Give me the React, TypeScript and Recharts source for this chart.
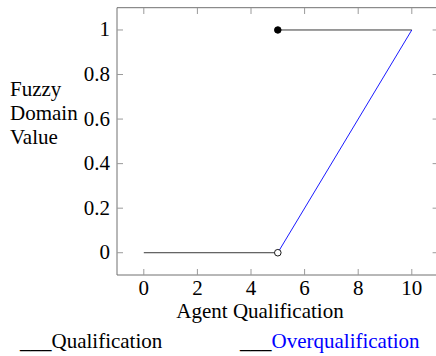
import React from "react"
import {
  ComposedChart,
  Line,
  Scatter,
  XAxis,
  YAxis,
} from "recharts"

// chart values
const xTicks = [0, 2, 4, 6, 8, 10]
const yTicks = [0, 0.2, 0.4, 0.6, 0.8, 1]
const qualLowX = [0, 5]
const qualLowY = [0, 0]
const qualHighX = [5, 10]
const qualHighY = [1, 1]
const overX = [5, 10]
const overY = [0, 1]
const filledDot = [{ x: 5, y: 1 }]
const openDot = [{ x: 5, y: 0 }]
const seriesNames = ["Qualification", "Overqualification"]
const seriesColors = ["#000", "#0000ff"]

const toPoints = (xs: number[], ys: number[]) => xs.map((x, i) => ({ x, y: ys[i] }))

const FONT = "'Liberation Serif', serif"
const FRAME = "#707070"
const TICK = "#9a9a9a"

// eslint-disable-next-line @typescript-eslint/no-explicit-any
function BottomTick({ x, y, payload }: any) {
  return (
    <g>
      <line x1={x} x2={x} y1={y} y2={y - 6} stroke={TICK} />
      <line x1={x} x2={x} y1={8} y2={14} stroke={TICK} />
      <text x={x} y={y + 20} textAnchor="middle" fontFamily={FONT} fontSize={21} fill="#000">
        {payload.value}
      </text>
    </g>
  )
}

// eslint-disable-next-line @typescript-eslint/no-explicit-any
function LeftTick({ x, y, payload }: any) {
  return (
    <g>
      <line x1={x} x2={x + 6} y1={y} y2={y} stroke={TICK} />
      <line x1={438.6} x2={432.6} y1={y} y2={y} stroke={TICK} />
      <text x={x - 7} y={y + 6.5} textAnchor="end" fontFamily={FONT} fontSize={21} fill="#000">
        {payload.value}
      </text>
    </g>
  )
}

// axis title plus the legend row beneath it
// eslint-disable-next-line @typescript-eslint/no-explicit-any
function XLabel({ viewBox }: any) {
  const starts = [20, 240]
  return (
    <g fontFamily={FONT} fontSize={21}>
      <line x1={viewBox.x} x2={viewBox.x + viewBox.width} y1={7.7} y2={7.7} stroke={FRAME} />
      <text x={viewBox.x + 143} y={viewBox.y + 43} textAnchor="middle" fill="#000">
        Agent Qualification
      </text>
      {seriesNames.map((name, i) => (
        <text key={name} x={starts[i]} y={viewBox.y + 73} fill={seriesColors[i]}>
          <tspan fill="#000">___</tspan>
          {name}
        </text>
      ))}
    </g>
  )
}

// eslint-disable-next-line @typescript-eslint/no-explicit-any
function YLabel({ viewBox }: any) {
  const lines = ["Fuzzy", "Domain", "Value"]
  return (
    <text fontFamily={FONT} fontSize={21} fill="#000">
      {lines.map((l, i) => (
        <tspan key={l} x={viewBox.x + 10} y={viewBox.y + 88 + i * 24}>
          {l}
        </tspan>
      ))}
    </text>
  )
}

// eslint-disable-next-line @typescript-eslint/no-explicit-any
const dotShape = (fill: string) => ({ cx, cy }: any) => (
  <circle cx={cx} cy={cy} r={3.3} fill={fill} stroke="#000" strokeWidth={0.9} />
)

export default function App() {
  return (
    <div style={{ position: "absolute", left: 0, top: 0, width: 436, height: 356, overflow: "hidden", background: "#fff" }}>
      <ComposedChart width={445} height={356} margin={{ top: 7.7, right: 6.4, left: 0, bottom: 0 }}>
        <XAxis
          dataKey="x"
          type="number"
          domain={[-1, 11]}
          ticks={xTicks}
          allowDataOverflow
          height={81}
          tickSize={0}
          tickMargin={0}
          tickLine={false}
          axisLine={{ stroke: FRAME }}
          tick={<BottomTick />}
          label={<XLabel />}
        />
        <YAxis
          dataKey="y"
          type="number"
          domain={[-0.1, 1.1]}
          ticks={yTicks}
          allowDataOverflow
          width={117}
          tickSize={0}
          tickMargin={0}
          tickLine={false}
          axisLine={{ stroke: FRAME }}
          tick={<LeftTick />}
          label={<YLabel />}
        />
        <Line
          data={toPoints(qualLowX, qualLowY)}
          dataKey="y"
          stroke="#222"
          strokeWidth={0.9}
          dot={false}
          activeDot={false}
          isAnimationActive={false}
        />
        <Line
          data={toPoints(qualHighX, qualHighY)}
          dataKey="y"
          stroke="#222"
          strokeWidth={0.9}
          dot={false}
          activeDot={false}
          isAnimationActive={false}
        />
        <Line
          data={toPoints(overX, overY)}
          dataKey="y"
          stroke="#0000ff"
          strokeWidth={0.9}
          dot={false}
          activeDot={false}
          isAnimationActive={false}
        />
        <Scatter data={filledDot} dataKey="y" shape={dotShape("#000")} isAnimationActive={false} />
        <Scatter data={openDot} dataKey="y" shape={dotShape("#fff")} isAnimationActive={false} />
      </ComposedChart>
    </div>
  )
}
